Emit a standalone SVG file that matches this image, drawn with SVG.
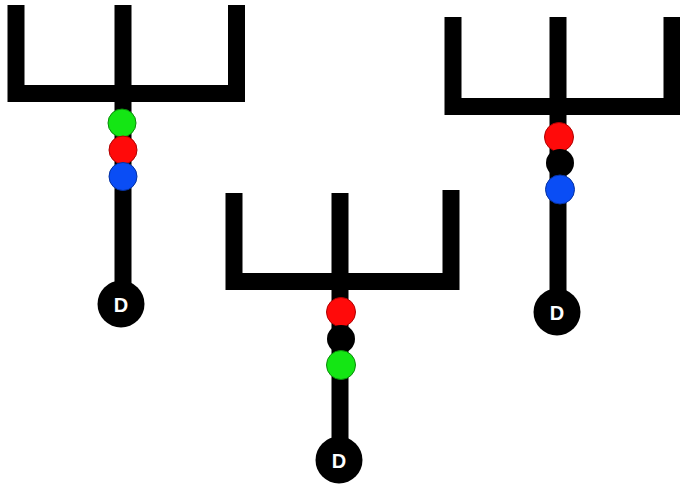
<svg xmlns="http://www.w3.org/2000/svg" width="680" height="484" viewBox="0 0 680 484">
<style>
.bar{fill:none;stroke:#000;stroke-width:17;stroke-linecap:butt;stroke-linejoin:miter}
.g{fill:#14e614;stroke:#0a8a0a;stroke-width:1}
.r{fill:#ff0a0a;stroke:#b00000;stroke-width:1}
.b{fill:#0a4df5;stroke:#0632a0;stroke-width:1}
.k{fill:#000}
.dn{fill:#000}
.dt{fill:#fff;font-family:"Liberation Sans",Arial,sans-serif;font-weight:bold;font-size:20px;text-anchor:middle;dominant-baseline:central}
</style>
<rect width="680" height="484" fill="#fff"/>
<g id="connectors">
  <path class="bar" d="M16,5 V93.5 H236.5 V5 M123,5 V285"/>
  <path class="bar" d="M234,193 V281.5 H451 V190 M340,193 V442"/>
  <path class="bar" d="M453,17 V106.5 H680 M672,17 V106.5 M558,17 V295"/>
</g>
<g id="tree1">
  <circle class="g" cx="122" cy="123" r="14"/>
  <circle class="r" cx="123" cy="150" r="14"/>
  <circle class="b" cx="123" cy="176.5" r="14"/>
  <g id="d1"><circle class="dn" cx="121" cy="304" r="23.5"/><text class="dt" x="121" y="305">D</text></g>
</g>
<g id="tree2">
  <circle class="r" cx="341" cy="312" r="14.5"/>
  <circle class="k" cx="341" cy="339" r="14"/>
  <circle class="g" cx="341" cy="365" r="14.5"/>
  <g id="d2"><circle class="dn" cx="339" cy="460" r="23.5"/><text class="dt" x="339" y="461">D</text></g>
</g>
<g id="tree3">
  <circle class="r" cx="559" cy="137" r="14.5"/>
  <circle class="k" cx="560" cy="163" r="14"/>
  <circle class="b" cx="560" cy="189.5" r="14.5"/>
  <g id="d3"><circle class="dn" cx="557" cy="312" r="23.5"/><text class="dt" x="557" y="313">D</text></g>
</g>
</svg>
